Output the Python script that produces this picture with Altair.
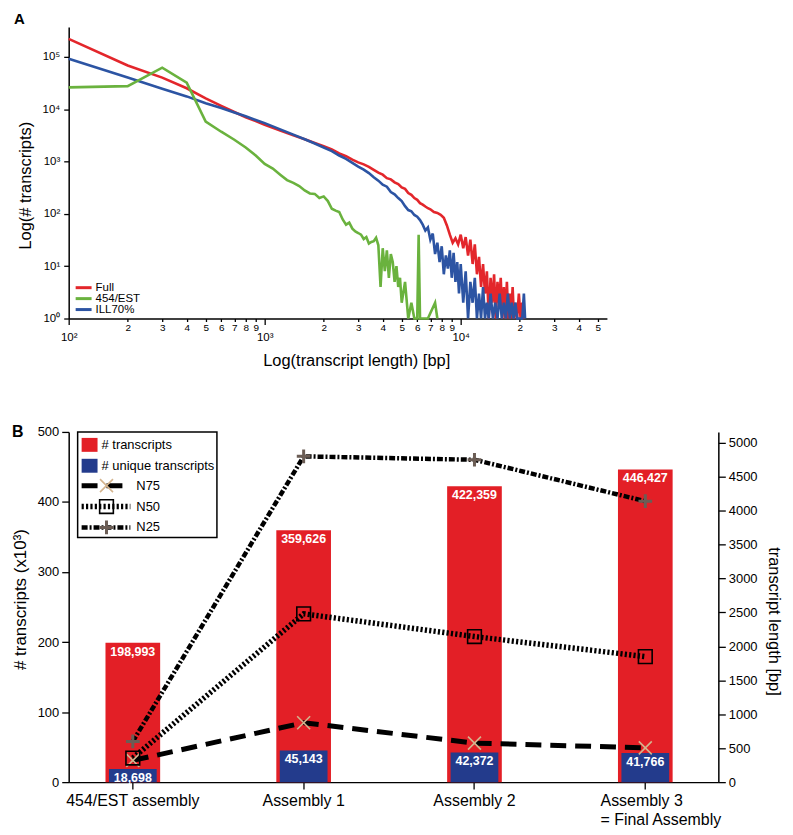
import altair as alt
import pandas as pd

# ---------------- Panel A data (transcript length histogram) ----------------
series_names = ["Full", "454/EST", "ILL70%"]
series_colors = ["#E3262B", "#6AB23E", "#2C54A3"]

full_len = [100, 200, 300, 400, 500, 600, 700, 800, 900, 1000, 1200, 1400, 1600, 1800, 2000,
            2200, 2400, 2600, 2800, 3000, 3200, 3400, 3600, 3800, 4000, 4200, 4400, 4600, 4800,
            5000, 5200, 5400, 5600, 5800, 6000, 6200, 6400, 6600, 6800, 7000, 7300, 7600, 7900,
            8200, 8500, 8800, 9100, 9400, 9700, 10000, 10300, 10600, 10900, 11200, 11500, 11800,
            12100, 12400, 12700, 13000, 13300, 13600, 13900, 14200, 14500, 14800, 15100, 15400,
            15700, 16000, 16300, 16600, 16900, 17200, 17500, 17800, 18100, 18400, 18700, 19000,
            19400, 19800, 20200, 20600, 21000]
full_cnt = [220000, 68000, 40000, 25000, 16000, 11500, 8800, 7000, 5900, 5000, 3900, 3150, 2650, 2250, 1950,
            1700, 1420, 1260, 1080, 960, 880, 790, 690, 610, 560, 480, 455, 400, 370,
            320, 300, 250, 230, 200, 185, 160, 150, 138, 128, 122, 108, 104, 96,
            84, 60, 40, 28, 34, 26, 40, 22, 36, 16, 32, 11, 26,
            7, 15, 4, 11, 3, 8, 1, 6, 2, 7, 1, 5,
            2, 6, 1, 4, 1, 5, 1, 3, 1, 4, 1, 2,
            1, 3, 1, 2, 1]

ill_len = [100, 200, 300, 400, 500, 600, 700, 800, 900, 1000, 1200, 1400, 1600, 1800, 2000,
           2200, 2400, 2600, 2800, 3000, 3200, 3400, 3600, 3800, 4000, 4200, 4400, 4600, 4800,
           5000, 5200, 5400, 5600, 5800, 6000, 6200, 6400, 6600, 6800, 7000, 7200, 7400, 7600, 7800,
           8000, 8200, 8400, 8600, 8800, 9000, 9200, 9400, 9600, 9800,
           10000, 10300, 10600, 10900, 11200, 11500, 11800, 12100, 12400, 12700, 13000, 13300, 13600, 13900,
           14200, 14600, 15000, 15400, 15800, 16200, 16600, 17000, 17400, 17800, 18200, 18600, 19000, 19400,
           20000, 20600, 21000, 21300]
ill_cnt = [92000, 40000, 24500, 17500, 13000, 10500, 8600, 7300, 6200, 5400, 4100, 3250, 2650, 2200, 1850,
           1580, 1300, 1120, 940, 800, 700, 600, 500, 430, 360, 330, 260, 235, 200,
           175, 140, 118, 112, 95, 88, 76, 62, 48, 55, 32, 42, 17, 28, 12,
           24, 7, 16, 9, 20, 6, 18, 5, 12, 3,
           11, 2, 8, 1, 5, 2, 6, 1, 3, 1, 4, 1, 2, 1,
           3, 1, 2, 1, 3, 1, 2, 1, 3, 1, 2, 1, 2, 1,
           1, 1, 3, 1]

est_len = [100, 200, 300, 400, 500, 600, 700, 800, 900, 1000,
           1100, 1200, 1300, 1400, 1500, 1600, 1700, 1800, 1900, 2000,
           2100, 2200, 2300, 2400, 2500, 2600, 2700, 2800, 2900, 3000,
           3100, 3200, 3300, 3400, 3500, 3600, 3700, 3800, 3900, 4000,
           4100, 4200, 4300, 4400, 4500, 4600, 4700, 4800, 4900, 5000,
           5200, 5400, 5600, 5800, 6000, 6100, 6200, 6800, 7400, 7600]
est_cnt = [26000, 27500, 62000, 32000, 5800, 3700, 2600, 1850, 1300, 900,
           730, 560, 440, 390, 340, 280, 245, 240, 200, 215,
           175, 125, 115, 108, 78, 62, 68, 52, 46, 43,
           40, 33, 36, 27, 29, 30, 35, 25, 4, 22,
           8, 20, 6, 17, 12, 5, 10, 4, 6, 2,
           5, 1, 2, 1, 1, 40, 1, 1, 2, 1]

x_major = [100, 1000, 10000]
x_ticks = [m * 10 ** e for e in (2, 3, 4) for m in range(1, 10) if m * 10 ** e <= 50000]
y_ticks = [1, 10, 100, 1000, 10000, 100000]

# ---------------- Panel B data (assembly statistics) ----------------
assemblies = ["454/EST assembly", "Assembly 1", "Assembly 2", "Assembly 3\n= Final Assembly"]
n_transcripts = [198993, 359626, 422359, 446427]
n_unique = [18698, 45143, 42372, 41766]
n75 = [320, 875, 575, 505]
n50 = [355, 2480, 2145, 1850]
n25 = [600, 4800, 4750, 4140]
metrics = ["N75", "N50", "N25"]
legend_labels = ["# transcripts", "# unique transcripts", "N75", "N50", "N25"]

FONT = "Liberation Sans"
BAR_RED = "#E31F26"
BAR_BLUE = "#233B8C"
X_PATH = "M-1,-1L1,1M-1,1L1,-1"
PLUS_PATH = "M-1,0L1,0M0,-1L0,1"

# ---------------- Panel A ----------------
df_a = pd.concat([
    pd.DataFrame({"length": full_len, "count": full_cnt, "series": "Full"}),
    pd.DataFrame({"length": ill_len, "count": ill_cnt, "series": "ILL70%"}),
    pd.DataFrame({"length": est_len, "count": est_cnt, "series": "454/EST"}),
], ignore_index=True)

major_test = " || ".join(f"datum.value == {v}" for v in x_major)

xa = alt.X(
    "length:Q",
    scale=alt.Scale(type="log", domain=[100, 55700], nice=False),
    axis=alt.Axis(
        values=x_ticks,
        title="Log(transcript length) [bp]",
        labelExpr="datum.value == 100 ? '10\u00b2' : datum.value == 1000 ? '10\u00b3' : "
                  "datum.value == 10000 ? '10\u2074' : substring(toString(datum.value), 0, 1)",
        labelFontSize={"condition": {"test": major_test, "value": 11.5}, "value": 10},
        labelPadding={"condition": {"test": major_test, "value": 7}, "value": 1},
        tickSize={"condition": {"test": major_test, "value": 6}, "value": 3},
        labelOverlap=False, labelFlush=False,
        titleX=289, titlePadding=10, titleFontSize=16.5,
    ),
)
ya = alt.Y(
    "count:Q",
    scale=alt.Scale(type="log", domain=[1, 370000], nice=False),
    axis=alt.Axis(
        values=y_ticks,
        labelExpr="['10\u2070','10\u00b9','10\u00b2','10\u00b3','10\u2074','10\u2075'][round(log(datum.value) / LN10)]",
        title="Log(# transcripts)", titleY=159, titlePadding=9, titleFontSize=16.5,
        labelPadding=4, tickSize=5, labelFontSize=11.5, labelFlush=False, labelOverlap=False,
    ),
)

lines_a = alt.Chart(df_a).mark_line(strokeWidth=2.6).encode(
    x=xa, y=ya,
    color=alt.Color("series:N", sort=series_names,
                    scale=alt.Scale(domain=series_names, range=series_colors),
                    legend=None),
)

# legend of panel A (drawn in the bottom-left corner of the plot)
leg_a_y = [262, 273, 284]
leg_a_lines = [
    alt.Chart(pd.DataFrame({"a": [0]})).mark_rule(color=c, strokeWidth=3).encode(
        x=alt.value(7), x2=alt.value(23), y=alt.value(ly))
    for c, ly in zip(series_colors, leg_a_y)
]
leg_a_texts = [
    alt.Chart(pd.DataFrame({"t": [s]})).mark_text(
        align="left", baseline="middle", fontSize=11.5, font=FONT, color="black"
    ).encode(x=alt.value(27), y=alt.value(ly), text="t:N")
    for s, ly in zip(series_names, leg_a_y)
]

letter_a = alt.Chart(pd.DataFrame({"t": ["A"]})).mark_text(
    align="left", baseline="alphabetic", fontSize=15, fontWeight="bold", font=FONT, color="black"
).encode(x=alt.value(-55), y=alt.value(-3), text="t:N")

panel_a = alt.layer(lines_a, *leg_a_lines, *leg_a_texts, letter_a).properties(width=541, height=293)

# ---------------- Panel B ----------------
df_b = pd.DataFrame({"assembly": assemblies, "transcripts": n_transcripts, "unique": n_unique})
df_l = pd.DataFrame({
    "assembly": assemblies * 3,
    "metric": [m for m in metrics for _ in assemblies],
    "bp": n75 + n50 + n25,
})

final_test = "indexof(datum.value, 'Final') >= 0"
xb = alt.X(
    "assembly:N", sort=assemblies, title=None,
    scale=alt.Scale(paddingInner=0.68, paddingOuter=0.2415, align=0.446),
    axis=alt.Axis(
        labelAngle=0, labelFontSize=16, labelPadding=3, tickSize=7, labelLineHeight=20,
        labelExpr="split(datum.label, '\\n')",
        labelAlign={"condition": {"test": final_test, "value": "left"}, "value": "center"},
        labelOffset={"condition": {"test": final_test, "value": -45}, "value": 0},
    ),
)
yl = alt.Y(
    "k:Q", scale=alt.Scale(domain=[0, 500], nice=False),
    axis=alt.Axis(values=[0, 100, 200, 300, 400, 500], title="# transcripts (x10\u00b3)",
                  titleFontSize=17, titleY=168, titlePadding=8, labelFontSize=13,
                  tickSize=7, labelPadding=3),
)
yr = alt.Y(
    "bp:Q", scale=alt.Scale(domain=[0, 5160], nice=False),
    axis=alt.Axis(orient="right", values=list(range(0, 5001, 500)), format="d",
                  title="transcript length [bp]",
                  titleFontSize=16.5, titleY=190, titlePadding=8, labelFontSize=13,
                  tickSize=7, labelPadding=3),
)

bars_t = alt.Chart(df_b).transform_calculate(k="datum.transcripts / 1000").mark_bar(
    color=BAR_RED).encode(x=xb, y=yl)
bars_u = alt.Chart(df_b).transform_calculate(k="datum.unique / 1000").mark_bar(
    color=BAR_BLUE, size=48).encode(x=xb, y=yl)
text_t = alt.Chart(df_b).transform_calculate(k="datum.transcripts / 1000").mark_text(
    color="white", fontWeight="bold", fontSize=12.5, baseline="top", dy=3, font=FONT
).encode(x=xb, y=yl, text=alt.Text("transcripts:Q", format=","))
text_u = alt.Chart(df_b).transform_calculate(k="datum.unique / 1000").mark_text(
    color="white", fontWeight="bold", fontSize=12.5, baseline="top", dy=3, font=FONT
).encode(x=xb, y=yl, text=alt.Text("unique:Q", format=","))

one = pd.DataFrame({"a": [0]})
leg_box = alt.Chart(one).mark_rect(fill="white", stroke="black", strokeWidth=1.5).encode(
    x=alt.value(9), x2=alt.value(149), y=alt.value(0), y2=alt.value(106))
leg_sq_red = alt.Chart(one).mark_rect(color=BAR_RED).encode(
    x=alt.value(13), x2=alt.value(29), y=alt.value(6), y2=alt.value(20))
leg_sq_blue = alt.Chart(one).mark_rect(color=BAR_BLUE).encode(
    x=alt.value(13), x2=alt.value(29), y=alt.value(27), y2=alt.value(41))

leg_rows_y = [13, 34, 54, 75, 96]
leg_rows_x = [33, 33, 68, 68, 68]
leg_texts = [
    alt.Chart(pd.DataFrame({"t": [lab]})).mark_text(
        align="left", baseline="middle", fontSize=13, font=FONT, color="black"
    ).encode(x=alt.value(lx), y=alt.value(ly), text="t:N")
    for lab, lx, ly in zip(legend_labels, leg_rows_x, leg_rows_y)
]

dash_styles = {"N75": ([16, 9], 5), "N50": ([2.2, 2.2], 5.5), "N25": ([6, 2, 2, 2], 4.5)}
leg_lines = [
    alt.Chart(one).mark_rule(color="black", strokeDash=dash_styles[m][0], strokeWidth=dash_styles[m][1]).encode(
        x=alt.value(13), x2=alt.value(62), y=alt.value(ly))
    for m, ly in zip(metrics, leg_rows_y[2:])
]
marker_props = {
    "N75": dict(shape=X_PATH, filled=False, color="#D4B48E", strokeWidth=1.6, size=170, opacity=1),
    "N50": dict(shape="square", filled=False, color="black", strokeWidth=1.6, size=190, opacity=1),
    "N25": dict(shape=PLUS_PATH, filled=False, color="#6B5D55", strokeWidth=3, size=190, opacity=1),
}
leg_marks = [
    alt.Chart(one).mark_point(**marker_props[m]).encode(x=alt.value(38), y=alt.value(ly))
    for m, ly in zip(metrics, leg_rows_y[2:])
]

letter_b = alt.Chart(pd.DataFrame({"t": ["B"]})).mark_text(
    align="left", baseline="alphabetic", fontSize=16, fontWeight="bold", font=FONT, color="black"
).encode(x=alt.value(-57), y=alt.value(5), text="t:N")

left_group = alt.layer(bars_t, bars_u, text_t, text_u, leg_box, leg_sq_red, leg_sq_blue,
                       *leg_texts, *leg_lines, *leg_marks, letter_b)

line_layers = [
    alt.Chart(df_l).transform_filter(f"datum.metric == '{m}'").mark_line(
        color="black", strokeDash=dash_styles[m][0], strokeWidth=dash_styles[m][1]
    ).encode(x=xb, y=yr)
    for m in metrics
]
point_layers = [
    alt.Chart(df_l).transform_filter(f"datum.metric == '{m}'").mark_point(**marker_props[m]).encode(x=xb, y=yr)
    for m in metrics
]
right_group = alt.layer(*line_layers, *point_layers)

panel_b = alt.layer(left_group, right_group).resolve_scale(y="independent").properties(width=653, height=352)

chart = alt.vconcat(
    panel_a, panel_b, spacing=55,
    padding={"left": 3, "top": 2, "right": 4, "bottom": 0},
).configure(font=FONT).configure_view(stroke=None).configure_axis(
    grid=False, domainColor="black", domainWidth=1.5, tickColor="black", tickWidth=1.3,
    labelColor="black", titleColor="black", labelFont=FONT, titleFont=FONT,
    titleFontWeight="normal",
)

chart.save("out.html", embed_options={"renderer": "svg", "actions": False})
